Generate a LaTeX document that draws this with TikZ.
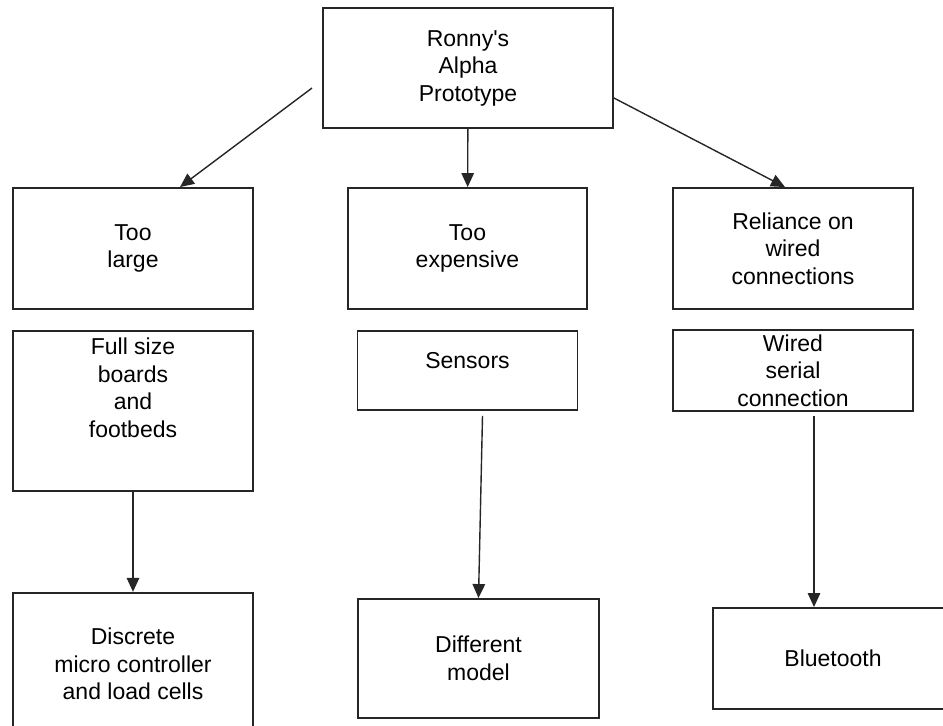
\documentclass[tikz,border=0pt]{standalone}
\usepackage{fontspec}
\setmainfont{Liberation Sans}
\usetikzlibrary{positioning,arrows.meta}

\newcommand{\raisedlines}[2]{\raisebox{#1}[0pt][0pt]{\begin{tabular}{@{}c@{}}#2\end{tabular}}}

\begin{document}
\begin{tikzpicture}[x=1pt,y=-1pt,
  block/.style={draw=black!85,line width=1.9pt,rectangle,align=center,inner sep=0pt,
    minimum width=240pt,font=\fontsize{23}{27.5}\selectfont},
  link/.style={draw=black!85,line width=1.4pt,-{Triangle[length=14pt,width=12.5pt]}},
  node distance=20pt]

  \path[use as bounding box,clip] (0,0) rectangle (943,726);

  \node[block,minimum width=290pt,minimum height=120pt] (proto) at (468,68) {Ronny\textquotesingle s\\Alpha\\Prototype};

  \node[block,minimum height=121pt] (large) at (133,248.5) {Too\\large};
  \node[block,minimum width=239pt,minimum height=121pt] (costly) at (467.5,248.5) {Too\\expensive};
  \node[block,minimum height=121pt] (wired) at (793,248.5) {Reliance on\\wired\\connections};

  \node[block,minimum height=160pt,below=of large] (boards) {\raisedlines{14pt}{Full size\\boards\\and\\footbeds}};
  \node[block,minimum width=220pt,minimum height=79pt,below=of costly] (sensors) {\raisedlines{1pt}{Sensors}};
  \node[block,minimum height=81pt,below=19pt of wired] (serial) {Wired\\serial\\connection};

  \node[block,minimum height=142pt,below=100pt of boards] (discrete) {Discrete\\micro controller\\and load cells};
  \node[block,minimum width=241pt,minimum height=119pt] (model) at (478.5,658.5) {Different\\model};
  \node[block,minimum height=101pt] (bt) at (833,658.5) {Bluetooth};

  % arrows
  \coordinate (lstart) at ([xshift=-10pt,yshift=-20pt]proto.west);
  \coordinate (sstart) at ([xshift=15pt,yshift=-5pt]sensors.south);
  \coordinate (wstart) at ([xshift=21pt,yshift=-4pt]serial.south);

  \draw[link] (lstart) -- ([xshift=47pt]large.north);
  \draw[link] (proto) -- (costly);
  \draw[link] ([yshift=-30pt]proto.east) -- ([xshift=-8pt]wired.north);

  \draw[link] (boards) -- (discrete);
  \draw[link] (sstart) -- (model.north);
  \draw[link] (wstart) -- (wstart |- bt.north);
\end{tikzpicture}
\end{document}
